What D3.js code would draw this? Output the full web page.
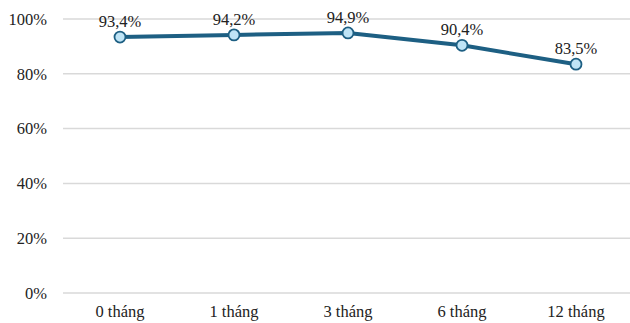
<!DOCTYPE html>
<html>
<head>
<meta charset="utf-8">
<script src="https://cdn.jsdelivr.net/npm/d3@7/dist/d3.min.js"></script>
<style>
  html, body { margin: 0; padding: 0; background: #fff; }
  svg { display: block; }
  svg text { font-family: "Liberation Serif", "DejaVu Serif", serif !important; fill: #222; }
</style>
</head>
<body>
<div id="chart"></div>
<script>
const categories = ["0 tháng", "1 tháng", "3 tháng", "6 tháng", "12 tháng"];
const values = [93.4, 94.2, 94.9, 90.4, 83.5];
const yTicks = [0, 20, 40, 60, 80, 100];

const width = 630, height = 323;
const margin = { top: 19, right: -3, bottom: 30, left: 63 };
const fontSize = 16.5;

const svg = d3.select("#chart").append("svg")
  .attr("width", width).attr("height", height);

const x = d3.scaleBand()
  .domain(categories)
  .range([margin.left, width - margin.right]);

const y = d3.scaleLinear()
  .domain([0, 100])
  .range([height - margin.bottom, margin.top]);

// horizontal gridlines
svg.append("g")
  .selectAll("line")
  .data(yTicks)
  .join("line")
  .attr("x1", margin.left)
  .attr("x2", width)
  .attr("y1", d => y(d))
  .attr("y2", d => y(d))
  .attr("stroke", "#d9d9d9")
  .attr("stroke-width", 1.5);

// y axis labels
const yAxis = d3.axisLeft(y).tickValues(yTicks).tickSize(0).tickPadding(0)
  .tickFormat(d => d + "%");
svg.append("g")
  .attr("transform", `translate(${margin.left - 16},0)`)
  .call(yAxis)
  .call(g => g.select(".domain").remove())
  .call(g => g.attr("font-family", null).attr("font-size", null))
  .call(g => g.selectAll("text")
    .style("font-size", fontSize + "px")
    .attr("fill", "#222"));

// x axis labels
const xAxis = d3.axisBottom(x).tickSize(0).tickPadding(0);
svg.append("g")
  .attr("transform", `translate(0,${height - margin.bottom + 12})`)
  .call(xAxis)
  .call(g => g.select(".domain").remove())
  .call(g => g.attr("font-family", null).attr("font-size", null))
  .call(g => g.selectAll("text")
    .style("font-size", fontSize + "px")
    .attr("fill", "#222"));

const cx = d => x(d) + x.bandwidth() / 2;

// series line
const line = d3.line()
  .x((d, i) => cx(categories[i]))
  .y(d => y(d));

svg.append("path")
  .datum(values)
  .attr("d", line)
  .attr("fill", "none")
  .attr("stroke", "#1d5f83")
  .attr("stroke-width", 4)
  .attr("stroke-linejoin", "round");

// markers
svg.append("g")
  .selectAll("circle")
  .data(values)
  .join("circle")
  .attr("cx", (d, i) => cx(categories[i]))
  .attr("cy", d => y(d))
  .attr("r", 5.5)
  .attr("fill", "#bfe4f6")
  .attr("stroke", "#1d5f83")
  .attr("stroke-width", 1.8);

// value labels
svg.append("g")
  .selectAll("text")
  .data(values)
  .join("text")
  .attr("x", (d, i) => cx(categories[i]))
  .attr("y", d => y(d) - 10)
  .attr("text-anchor", "middle")
  .style("font-size", fontSize + "px")
  .text(d => d.toFixed(1).replace(".", ",") + "%");
</script>
</body>
</html>
